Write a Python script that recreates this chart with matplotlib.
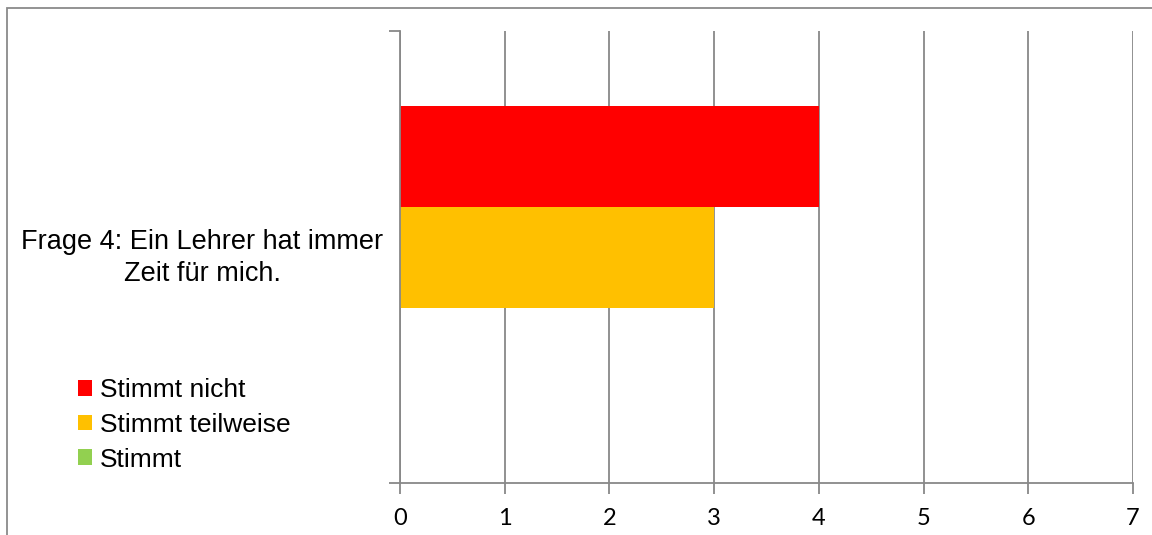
import matplotlib
matplotlib.use("Agg")
import matplotlib.pyplot as plt
from matplotlib.patches import Patch, Rectangle

# data
category = "Frage 4: Ein Lehrer hat immer\nZeit für mich."
series_names = ["Stimmt nicht", "Stimmt teilweise", "Stimmt"]
series_values = [4, 3, 0]
series_colors = ["#FF0000", "#FFC000", "#92D050"]
x_ticks = [0, 1, 2, 3, 4, 5, 6, 7]

W, H = 1152, 535
grey = "#888888"

fig = plt.figure(figsize=(W / 100, H / 100), dpi=100)
ax = fig.add_axes([400 / W, 1 - 483 / H, 733 / W, 452 / H])

# bars: one category, three series side by side (gap 150%)
bar_h = 101 / 452
for i, (name, val, col) in enumerate(zip(series_names, series_values, series_colors)):
    ax.barh((i - 1) * bar_h, val, height=bar_h, color=col, label=name, zorder=3)

ax.set_xlim(0, 7)
ax.set_ylim(0.5, -0.5)
ax.set_xticks(x_ticks)
ax.set_xticklabels([str(t) for t in x_ticks], fontfamily="Lato", fontsize=17)
ax.tick_params(axis="x", length=8, width=1.3, color=grey, pad=10)
ax.set_yticks([-0.5, 0.5])
ax.set_yticklabels([])
ax.tick_params(axis="y", length=8, width=1.3, color=grey)
ax.grid(axis="x", color=grey, linewidth=1.3, zorder=0)

for side in ["top", "right"]:
    ax.spines[side].set_visible(False)
for side in ["left", "bottom"]:
    ax.spines[side].set_color(grey)
    ax.spines[side].set_linewidth(1.3)
ax.spines["left"].set_zorder(4)

# category label, centered text left of the axis
fig.text(202 / W, 1 - 258 / H, category, ha="center", va="center",
         fontsize=19.5, fontfamily="Liberation Sans", linespacing=1.3)

# legend on the left side
handles = [Patch(facecolor=c, edgecolor="none") for c in series_colors]
fig.legend(handles, series_names, loc="center left",
           bbox_to_anchor=(78 / W, 1 - 425 / H), frameon=False,
           prop={"family": "Liberation Sans", "size": 19},
           handlelength=0.53, handleheight=0.53, handletextpad=0.3,
           labelspacing=0.4, borderpad=0, borderaxespad=0)

# outer chart border (only left and top visible in the picture)
fig.patches.append(Rectangle((7 / W, -0.1), 1.2, 1.1 - 8 / H, transform=fig.transFigure,
                             fill=False, edgecolor="#8a8a8a", linewidth=1.3))

fig.savefig("out.png", dpi=100, facecolor="white")
